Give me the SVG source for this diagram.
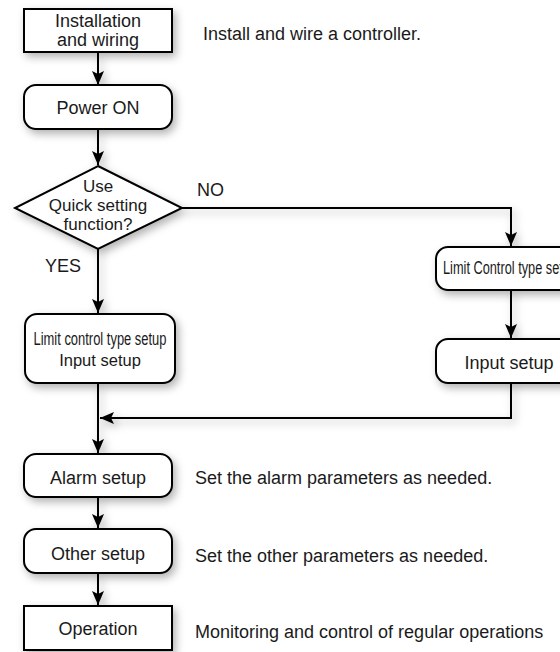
<svg xmlns="http://www.w3.org/2000/svg" width="560" height="652" viewBox="0 0 560 652">
<defs>
  <filter id="sh" x="-20%" y="-20%" width="150%" height="160%">
    <feDropShadow dx="3" dy="4" stdDeviation="4" flood-color="#000" flood-opacity="0.3"/>
  </filter>
  <marker id="ah" viewBox="0 0 14 12" refX="14" refY="6" markerWidth="14" markerHeight="12" markerUnits="userSpaceOnUse" orient="auto">
    <path d="M0,0 L14,6 L0,12 L3,6 z" fill="#000"/>
  </marker>
  <style>
    .box{fill:#fff;stroke:#000;stroke-width:2;filter:url(#sh)}
    .t{font-family:"Liberation Sans",Arial,sans-serif;font-size:18px;fill:#1a1a1a}
    .c{text-anchor:middle}
    .d{font-size:17px}
    .n{font-size:17px}
    .ln{fill:none;stroke:#000;stroke-width:2}
  </style>
</defs>
<rect width="560" height="652" fill="#fff"/>

<g id="connectors" filter="url(#sh)">
  <path class="ln" d="M98,52 V85" marker-end="url(#ah)"/>
  <path class="ln" d="M98,129 V165" marker-end="url(#ah)"/>
  <path class="ln" d="M182,208 H511 V246" marker-end="url(#ah)"/>
  <path class="ln" d="M98,249 V313" marker-end="url(#ah)"/>
  <path class="ln" d="M511,290 V338" marker-end="url(#ah)"/>
  <path class="ln" d="M511,383 V418 H100" marker-end="url(#ah)"/>
  <path class="ln" d="M98,383 V453" marker-end="url(#ah)"/>
  <path class="ln" d="M98,497 V528" marker-end="url(#ah)"/>
  <path class="ln" d="M98,573 V605" marker-end="url(#ah)"/>
</g>

<g id="install">
  <rect class="box" x="24" y="9" width="148" height="43"/>
  <text class="t c" x="98" y="27">Installation</text>
  <text class="t c" x="98" y="46">and wiring</text>
</g>
<text class="t" x="203" y="39.5">Install and wire a controller.</text>

<g id="power">
  <rect class="box" x="24" y="85" width="148" height="44" rx="12"/>
  <text class="t c" x="98" y="113.5">Power ON</text>
</g>

<g id="decision">
  <polygon class="box" points="98,166 182,208 98,249 15,208"/>
  <text class="t c d" x="98" y="192">Use</text>
  <text class="t c d" x="98" y="211">Quick setting</text>
  <text class="t c d" x="98" y="230">function?</text>
</g>
<text class="t" x="197" y="196">NO</text>
<text class="t" x="45" y="272">YES</text>

<g id="quicksetup">
  <rect class="box" x="25" y="314" width="150" height="69" rx="12"/>
  <text class="t c" x="100" y="345" font-size="17" textLength="133" lengthAdjust="spacingAndGlyphs">Limit control type setup</text>
  <text class="t c" x="100" y="366" style="font-size:16.5px">Input setup</text>
</g>

<g id="limitcontrol">
  <rect class="box" x="436" y="247" width="148" height="43" rx="12"/>
  <text class="t c" x="510" y="274" textLength="134" lengthAdjust="spacingAndGlyphs">Limit Control type setup</text>
</g>

<g id="inputsetup">
  <rect class="box" x="436" y="339" width="148" height="44" rx="12"/>
  <text class="t c" x="509" y="368.5">Input setup</text>
</g>

<g id="alarm">
  <rect class="box" x="24" y="454" width="148" height="43" rx="12"/>
  <text class="t c" x="98" y="483.5">Alarm setup</text>
</g>
<text class="t" x="195" y="483.5">Set the alarm parameters as needed.</text>

<g id="other">
  <rect class="box" x="24" y="529" width="148" height="44" rx="12"/>
  <text class="t c" x="98" y="560">Other setup</text>
</g>
<text class="t" x="195" y="562">Set the other parameters as needed.</text>

<g id="operation">
  <rect class="box" x="24" y="606" width="148" height="44"/>
  <text class="t c" x="98" y="634.5">Operation</text>
</g>
<text class="t" x="195" y="638">Monitoring and control of regular operations</text>
</svg>
